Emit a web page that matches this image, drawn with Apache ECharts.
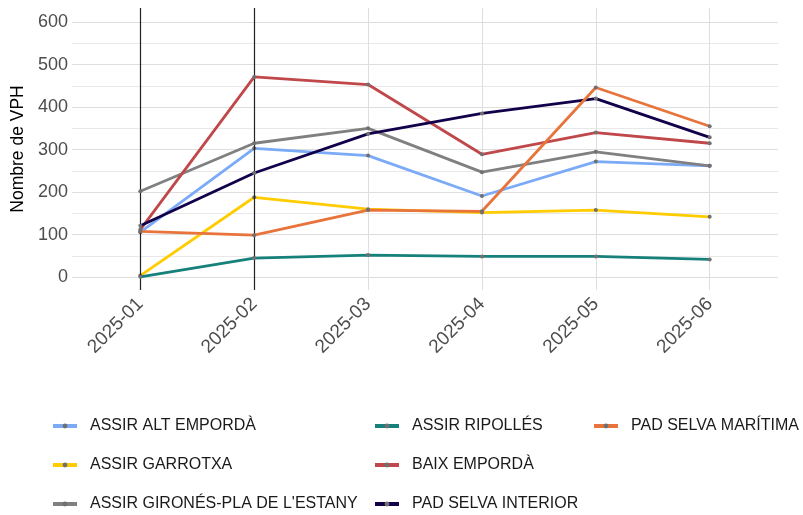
<!DOCTYPE html>
<html><head><meta charset="utf-8">
<script src="https://cdn.jsdelivr.net/npm/echarts@6/dist/echarts.min.js"></script>
<style>html,body{margin:0;padding:0;background:#fff}#c{width:803px;height:515px}</style>
</head><body><div id="c"></div>
<script>
const months = ['2025-01','2025-02','2025-03','2025-04','2025-05','2025-06'];
const yTicks = [0,100,200,300,400,500,600];
const yMinor = [50,150,250,350,450,550];
const vlineMonths = ['2025-01','2025-02'];
const names = ['ASSIR ALT EMPORDÀ','ASSIR GARROTXA',"ASSIR GIRONÉS-PLA DE L'ESTANY",'ASSIR RIPOLLÉS','BAIX EMPORDÀ','PAD SELVA INTERIOR','PAD SELVA MARÍTIMA'];
const altEmporda = [106,303,286,191,272,262];
const garrotxa = [4,188,160,152,158,142];
const girones = [202,315,350,247,295,262];
const ripolles = [1,45,52,49,49,42];
const baixEmporda = [112,471,453,289,340,315];
const selvaInterior = [121,245,337,385,420,329];
const selvaMaritima = [108,99,158,155,446,355];
const colors = ['#7BAAF7','#FFCC00','#808080','#16807A','#C0474A','#12004A','#E8743B'];
const values = [altEmporda,garrotxa,girones,ripolles,baixEmporda,selvaInterior,selvaMaritima];

const xPos = months.map((m,i)=>i+1);
const series = names.map((n,k)=>({
  name:n, type:'line',
  data: values[k].map((v,i)=>[xPos[i],v]),
  symbol:'circle', symbolSize:4, showSymbol:true,
  itemStyle:{color:'#707070'},
  lineStyle:{color:colors[k], width:2.8},
  emphasis:{disabled:true}, animation:false, z:3+k
}));
series[0].markLine = {
  silent:true, symbol:'none', label:{show:false},
  lineStyle:{color:'#222', width:1.2, type:'solid'},
  data: vlineMonths.map(m=>({xAxis: months.indexOf(m)+1}))
};
const legendText = {fontFamily:'Liberation Sans', fontSize:16, color:'#1a1a1a', lineHeight:16, padding:[0,0,0,8]};
const col = (list,left)=>({
  orient:'vertical', left:left, top:418, itemGap:23, itemWidth:24, itemHeight:6, padding:0,
  data:list, textStyle:legendText, lineStyle:{width:4}
});
const chart = echarts.init(document.getElementById('c'),null,{renderer:'canvas'});
chart.setOption({
  animation:false,
  grid:{left:72,right:25,top:8,bottom:225,containLabel:false},
  xAxis:{type:'value', min:0.4, max:6.6,
    axisLine:{show:false}, axisTick:{show:false, customValues:xPos},
    axisLabel:{customValues:xPos, rotate:45, margin:11, fontFamily:'Liberation Sans', fontSize:19, color:'#4d4d4d',
      formatter:v=>months[Math.round(v)-1]},
    splitLine:{show:true, lineStyle:{color:'#dedede', width:1}}},
  yAxis:[{type:'value', min:-30, max:633,
    name:'Nombre de VPH', nameLocation:'middle', nameGap:44, nameRotate:90,
    nameTextStyle:{fontFamily:'Liberation Sans', fontSize:17.5, color:'#000'},
    axisLine:{show:false}, axisTick:{show:false, customValues:yTicks},
    axisLabel:{customValues:yTicks, margin:4, fontFamily:'Liberation Sans', fontSize:18, color:'#4d4d4d'},
    splitLine:{show:true, lineStyle:{color:'#dedede', width:1}}},
   {type:'value', min:-30, max:633, position:'left',
    axisLine:{show:false}, axisTick:{show:false, customValues:yMinor},
    axisLabel:{show:false, customValues:yMinor},
    splitLine:{show:true, lineStyle:{color:'#e8e8e8', width:1}}}],
  legend:[col(names.slice(0,3),51), col(names.slice(3,6),373), col(names.slice(6,7),592)],
  series: series
});
</script></body></html>
